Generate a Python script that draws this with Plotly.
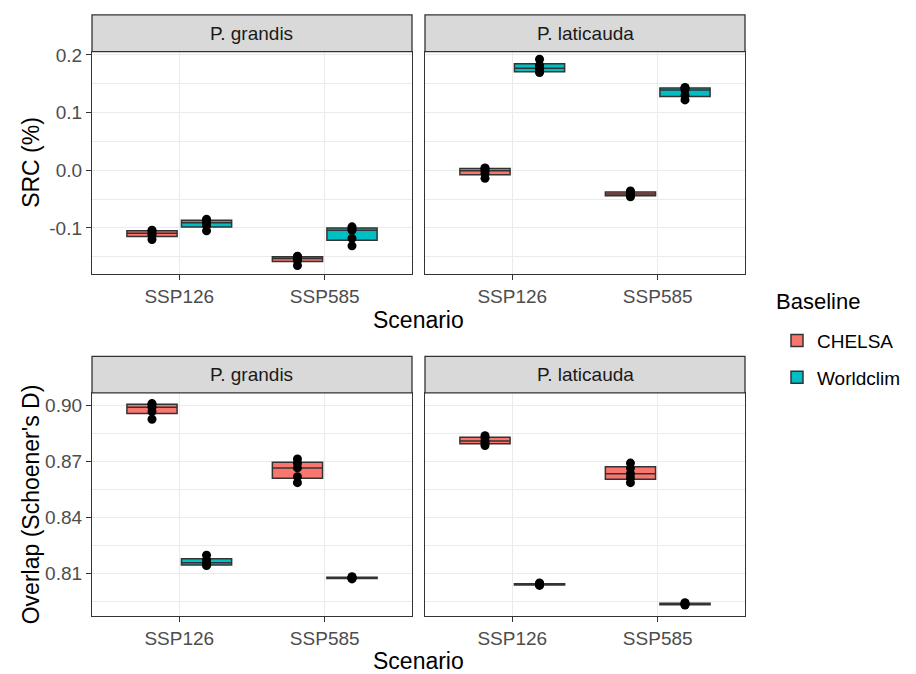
import plotly.graph_objects as go

W, H = 916, 674

# ---------------- data ----------------
scenarios = ["SSP126", "SSP585"]
species = ["P. grandis", "P. laticauda"]
baselines = ["CHELSA", "Worldclim"]
baseline_colors = ["#F8766D", "#00BFC4"]

# SRC (%) values: one value per run, per species / baseline / scenario
src_grandis_chelsa_126 = [-0.120, -0.113, -0.109, -0.105, -0.104]
src_grandis_chelsa_585 = [-0.165, -0.156, -0.153, -0.150, -0.149]
src_grandis_world_126 = [-0.105, -0.096, -0.091, -0.087, -0.085]
src_grandis_world_585 = [-0.131, -0.118, -0.104, -0.101, -0.098]
src_laticauda_chelsa_126 = [-0.014, -0.0055, -0.001, 0.003, 0.004]
src_laticauda_chelsa_585 = [-0.046, -0.0435, -0.041, -0.038, -0.036]
src_laticauda_world_126 = [0.1695, 0.171, 0.177, 0.182, 0.1925]
src_laticauda_world_585 = [0.122, 0.130, 0.139, 0.1425, 0.1435]

# Overlap (Schoener's D) values
ovl_grandis_chelsa_126 = [0.8926, 0.8967, 0.8990, 0.9005, 0.9010]
ovl_grandis_chelsa_585 = [0.8586, 0.8618, 0.8665, 0.8690, 0.8713]
ovl_grandis_world_126 = [0.8142, 0.8145, 0.8156, 0.8172, 0.8197]
ovl_grandis_world_585 = [0.8070, 0.8073, 0.8075, 0.8078, 0.8082]
ovl_laticauda_chelsa_126 = [0.8785, 0.8797, 0.8810, 0.8827, 0.8838]
ovl_laticauda_chelsa_585 = [0.8586, 0.8611, 0.8634, 0.8664, 0.8691]
ovl_laticauda_world_126 = [0.8035, 0.8038, 0.8040, 0.8043, 0.8048]
ovl_laticauda_world_585 = [0.7930, 0.7932, 0.7935, 0.7938, 0.7942]

src_ticks = [-0.1, 0.0, 0.1, 0.2]
src_ticktext = ["-0.1", "0.0", "0.1", "0.2"]
src_range = [-0.1801, 0.2058]
ovl_ticks = [0.81, 0.84, 0.87, 0.90]
ovl_ticktext = ["0.81", "0.84", "0.87", "0.90"]
ovl_range = [0.7873, 0.9067]

panels = [
    (0, 0, species[0], (src_grandis_chelsa_126, src_grandis_chelsa_585), (src_grandis_world_126, src_grandis_world_585)),
    (0, 1, species[1], (src_laticauda_chelsa_126, src_laticauda_chelsa_585), (src_laticauda_world_126, src_laticauda_world_585)),
    (1, 0, species[0], (ovl_grandis_chelsa_126, ovl_grandis_chelsa_585), (ovl_grandis_world_126, ovl_grandis_world_585)),
    (1, 1, species[1], (ovl_laticauda_chelsa_126, ovl_laticauda_chelsa_585), (ovl_laticauda_world_126, ovl_laticauda_world_585)),
]

# ---------------- layout geometry (pixels) ----------------
col_px = [(92, 412), (425, 745)]
row_px = [(45, 270), (390, 615)]
strip_top = [8, 353]

def fx(p):
    return p / W

def fy(p):
    return 1 - p / H

FONT = "Liberation Sans, Arial, sans-serif"
EDGE = "#333333"
GRID = "#EBEBEB"

fig = go.Figure()
layout = dict(
    width=W, height=H,
    margin=dict(l=0, r=0, t=0, b=0),
    paper_bgcolor="white", plot_bgcolor="white",
    boxmode="group", boxgap=0.25, boxgroupgap=0.08,
    font=dict(family=FONT, size=19, color="#4D4D4D"),
    showlegend=True,
    legend=dict(
        font=dict(size=19, color="black"),
        x=fx(777), y=fy(318), xanchor="left", yanchor="top",
        bgcolor="rgba(0,0,0,0)", tracegroupgap=9, traceorder="grouped",
    ),
)

shapes = []
annotations = []

for idx, (r, c, sp, chelsa, world) in enumerate(panels):
    n = idx + 1
    xa = "xaxis" if n == 1 else f"xaxis{n}"
    ya = "yaxis" if n == 1 else f"yaxis{n}"
    xref = "x" if n == 1 else f"x{n}"
    yref = "y" if n == 1 else f"y{n}"

    for b, (name, color, vals) in enumerate(zip(baselines, baseline_colors, [chelsa, world])):
        xs = [scenarios[0]] * len(vals[0]) + [scenarios[1]] * len(vals[1])
        ys = list(vals[0]) + list(vals[1])
        fig.add_trace(go.Box(
            x=xs, y=ys, name=name, legendgroup=name, showlegend=(n == 1),
            offsetgroup=name,
            xaxis=xref, yaxis=yref,
            fillcolor=color, line=dict(color=EDGE, width=1.5),
            whiskerwidth=0, quartilemethod="linear",
            boxpoints="all", jitter=0, pointpos=0,
            marker=dict(color="black", size=9),
        ))

    if r == 0:
        tickvals, ticktext, rng, minor_step = src_ticks, src_ticktext, src_range, 0.05
    else:
        tickvals, ticktext, rng, minor_step = ovl_ticks, ovl_ticktext, ovl_range, 0.015
    minor_vals = [t - minor_step for t in tickvals] + [tickvals[-1] + minor_step]

    layout[xa] = dict(
        domain=[fx(col_px[c][0]), fx(col_px[c][1])],
        anchor=yref, type="category", categoryorder="array", categoryarray=scenarios,
        range=[-0.6, 1.6],
        showgrid=True, gridcolor=GRID, gridwidth=1.2,
        showline=True, linecolor=EDGE, linewidth=1.3, mirror=True,
        ticks="outside", ticklen=5, tickcolor=EDGE, tickwidth=1.3,
        tickfont=dict(size=19, color="#4D4D4D"), zeroline=False,
    )
    layout[ya] = dict(
        domain=[fy(row_px[r][1]), fy(row_px[r][0])],
        anchor=xref, range=rng,
        tickmode="array", tickvals=tickvals, ticktext=ticktext,
        showgrid=True, gridcolor=GRID, gridwidth=1.2,
        minor=dict(tickmode="array", tickvals=minor_vals, showgrid=True,
                   gridcolor=GRID, gridwidth=1.2, ticks=""),
        showline=True, linecolor=EDGE, linewidth=1.3, mirror=True,
        ticks="outside" if c == 0 else "", ticklen=5, tickcolor=EDGE, tickwidth=1.3,
        showticklabels=(c == 0),
        tickfont=dict(size=19, color="#4D4D4D"), zeroline=False,
    )

    # facet strip
    shapes.append(dict(
        type="rect", xref="paper", yref="paper",
        x0=fx(col_px[c][0]), x1=fx(col_px[c][1]),
        y0=fy(row_px[r][0]), y1=fy(strip_top[r]),
        fillcolor="#D9D9D9", line=dict(color=EDGE, width=1.3),
    ))
    annotations.append(dict(
        text=sp, xref="paper", yref="paper",
        x=fx((col_px[c][0] + col_px[c][1]) / 2),
        y=fy((row_px[r][0] + strip_top[r]) / 2),
        showarrow=False, xanchor="center", yanchor="middle",
        font=dict(size=19, color="#1A1A1A"),
    ))

# axis titles
for r, (ytitle, xt_y) in enumerate([("SRC (%)", 316), ("Overlap (Schoener's D)", 661)]):
    annotations.append(dict(
        text="Scenario", xref="paper", yref="paper",
        x=fx((col_px[0][0] + col_px[1][1]) / 2), y=fy(xt_y),
        showarrow=False, xanchor="center", yanchor="middle",
        font=dict(size=23, color="black"),
    ))
    annotations.append(dict(
        text=ytitle, xref="paper", yref="paper",
        x=fx(31), y=fy((row_px[r][0] + row_px[r][1]) / 2),
        showarrow=False, xanchor="center", yanchor="middle", textangle=-90,
        font=dict(size=23, color="black"),
    ))

# legend title
annotations.append(dict(
    text="Baseline", xref="paper", yref="paper",
    x=fx(774), y=fy(298), showarrow=False, xanchor="left", yanchor="middle",
    font=dict(size=22, color="black"),
))

layout["shapes"] = shapes
layout["annotations"] = annotations
fig.update_layout(**layout)

fig.write_html("out.html", config={"displayModeBar": False},
               post_script="document.body.style.margin='0px';")
